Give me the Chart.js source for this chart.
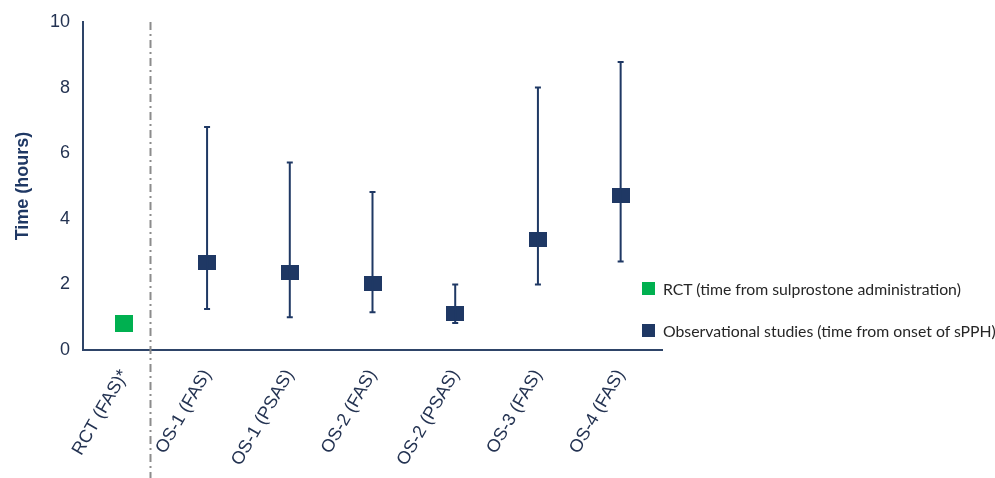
<!DOCTYPE html>
<html><head><meta charset="utf-8">
<script src="https://cdn.jsdelivr.net/npm/chart.js@4/dist/chart.umd.min.js"></script>
<style>
html,body{margin:0;padding:0;background:#fff;}
#wrap{position:relative;width:995px;height:478px;}
#legend{position:absolute;left:642px;top:278px;font-family:Lato,"Open Sans",sans-serif;font-size:15.8px;color:#262626;}
#legend div{display:flex;align-items:center;height:20px;margin-bottom:22px;white-space:nowrap;}
#legend span.sw{display:inline-block;width:13px;height:13px;margin-right:8px;}
</style>
</head><body>
<div id="wrap"><canvas id="c" width="995" height="478"></canvas>
<div id="legend">
<div><span class="sw" style="background:#00B050"></span>RCT (time from sulprostone administration)</div>
<div><span class="sw" style="background:#1F3864"></span>Observational studies (time from onset of sPPH)</div>
</div></div>
<script>
const categories = ["RCT (FAS)*","OS-1 (FAS)","OS-1 (PSAS)","OS-2 (FAS)","OS-2 (PSAS)","OS-3 (FAS)","OS-4 (FAS)"];
const rctValues = [0.82, null, null, null, null, null, null];
const osValues  = [null, 2.68, 2.35, 2.02, 1.12, 3.36, 4.70];
const osLower   = [null, 1.25, 1.00, 1.15, 0.82, 2.00, 2.70];
const osUpper   = [null, 6.80, 5.72, 4.82, 2.00, 8.00, 8.78];
const yTicks = [0, 2, 4, 6, 8, 10];

const NAVY = "#1F3864", GREEN = "#00B050", TXT = "#243352";
function box(w,h,color){const c=document.createElement('canvas');c.width=w;c.height=h;const x=c.getContext('2d');x.fillStyle=color;x.fillRect(0,0,w,h);return c;}

const overlay = {
  id:'overlay',
  afterDatasetsDraw(chart){
    const ctx=chart.ctx, xs=chart.scales.x, ys=chart.scales.y;
    ctx.save();
    ctx.strokeStyle=NAVY; ctx.lineWidth=2;
    for(let i=0;i<categories.length;i++){
      if(osLower[i]==null) continue;
      const x=xs.getPixelForValue(i), y1=ys.getPixelForValue(osLower[i]), y2=ys.getPixelForValue(osUpper[i]);
      ctx.beginPath(); ctx.moveTo(x,y1); ctx.lineTo(x,y2);
      ctx.moveTo(x-3,y1); ctx.lineTo(x+3,y1);
      ctx.moveTo(x-3,y2); ctx.lineTo(x+3,y2);
      ctx.stroke();
    }
    ctx.restore();
  },
  beforeDatasetsDraw(chart){
    const ctx=chart.ctx, xs=chart.scales.x, ys=chart.scales.y;
    const x0=xs.getPixelForValue(0), x1=xs.getPixelForValue(1);
    const xd=Math.round(x0+0.31*(x1-x0))+0.5;
    ctx.save();
    ctx.strokeStyle="#8c8c8c"; ctx.lineWidth=2; ctx.setLineDash([8,4,2,4]);
    ctx.beginPath(); ctx.moveTo(xd, ys.getPixelForValue(10)); ctx.lineTo(xd, chart.height); ctx.stroke();
    ctx.restore();
  }
};

new Chart(document.getElementById('c'),{
  type:'line',
  data:{labels:categories,datasets:[
    {data:rctValues,showLine:false,pointStyle:box(18,17,GREEN),pointRadius:9,pointHoverRadius:9},
    {data:osValues,showLine:false,pointStyle:box(18,15,NAVY),pointRadius:9,pointHoverRadius:9}
  ]},
  options:{
    responsive:false,animation:false,
    layout:{padding:{top:22,right:333,left:0,bottom:0}},
    plugins:{legend:{display:false},tooltip:{enabled:false}},
    scales:{
      x:{
        offset:true,
        afterFit(s){s.height=128;},
        grid:{display:false,drawTicks:false,offset:true},
        border:{display:true,color:"#2E4468",width:2},
        ticks:{minRotation:60,maxRotation:60,autoSkip:false,padding:16,color:TXT,font:{family:"'Liberation Sans', Arial",size:18}}
      },
      y:{
        min:0,max:10,
        afterFit(s){s.width=83;},
        afterBuildTicks(s){s.ticks=yTicks.map(v=>({value:v}));},
        grid:{display:false,drawOnChartArea:false,drawTicks:true,tickLength:6,color:"#2E4468",tickWidth:2},
        border:{display:true,color:"#2E4468",width:2},
        ticks:{padding:7,color:TXT,font:{family:"'Liberation Sans', Arial",size:18}},
        title:{display:true,text:"Time (hours)",color:NAVY,font:{family:"'Liberation Sans', Arial",size:18,weight:"bold"},padding:{top:12,bottom:0}}
      }
    }
  },
  plugins:[overlay]
});
</script>
</body></html>
